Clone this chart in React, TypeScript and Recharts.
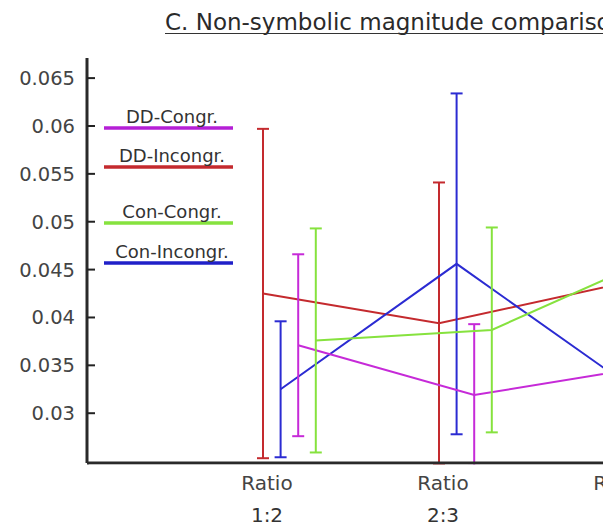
import React from "react";
import { LineChart, Line, XAxis, YAxis, ErrorBar } from "recharts";

/* =======================
   Data
======================= */
const categories = ["Ratio 1:2", "Ratio 2:3", "Ratio 3:4"];
const yTicks = [0.03, 0.035, 0.04, 0.045, 0.05, 0.055, 0.06, 0.065];

const ddCongr = [0.0371, 0.0319, 0.0349];
const ddCongrErr = [0.0095, 0.0074, 0.008];
const ddIncongr = [0.0425, 0.0394, 0.0434];
const ddIncongrErr = [0.0172, 0.0147, 0.012];
const conCongr = [0.0376, 0.0387, 0.0469];
const conCongrErr = [0.0117, 0.0107, 0.01];
const conIncongr = [0.0325, 0.0456, 0.0326];
const conIncongrErr = [0.0071, 0.0178, 0.009];

const FONT = "'DejaVu Sans', sans-serif";
const AXIS_X = 87;

const series = [
  { name: "DD-Incongr.", color: "#c42a2e", offset: 0, means: ddIncongr, errs: ddIncongrErr },
  { name: "Con-Incongr.", color: "#2b2bd2", offset: 0.1, means: conIncongr, errs: conIncongrErr },
  { name: "DD-Congr.", color: "#c62ad8", offset: 0.2, means: ddCongr, errs: ddCongrErr },
  { name: "Con-Congr.", color: "#86e23e", offset: 0.3, means: conCongr, errs: conCongrErr },
];

const legend = [
  { name: "DD-Congr.", color: "#b51fd6", y: 128 },
  { name: "DD-Incongr.", color: "#c42a2e", y: 167 },
  { name: "Con-Congr.", color: "#86e23e", y: 223 },
  { name: "Con-Incongr.", color: "#2020c8", y: 263 },
];

/* =======================
   Ticks
======================= */
const YTick = (props: any) => {
  const { y, payload } = props;
  return (
    <g>
      <line x1={AXIS_X} x2={AXIS_X + 8} y1={y} y2={y} stroke="#222" strokeWidth={2} />
      <text x={AXIS_X - 12} y={y + 7} textAnchor="end" fontSize={19.5} fill="#444" fontFamily={FONT}>
        {String(payload.value)}
      </text>
    </g>
  );
};

const XTick = (props: any) => {
  const { x, payload } = props;
  const label = categories[payload.value];
  if (!label) return null;
  const [a, b] = label.split(" ");
  return (
    <g fontFamily={FONT} fontSize={20} fill="#444">
      <text x={x + 4} y={490} textAnchor="middle">{a}</text>
      <text x={x + 4} y={522} textAnchor="middle" fill="#333">{b}</text>
    </g>
  );
};

/* =======================
   Component
======================= */
export default function App() {
  return (
    <div
      style={{
        position: "absolute",
        left: 0,
        top: 0,
        width: 603,
        height: 527,
        overflow: "hidden",
        background: "#fff",
      }}
    >
      <LineChart width={800} height={527} margin={{ top: 58, right: 9, bottom: 4, left: 0 }}>
        <XAxis
          type="number"
          dataKey="x"
          domain={[-1, 3]}
          ticks={[0, 1, 2]}
          allowDataOverflow
          height={60}
          axisLine={{ stroke: "#2a2a2a", strokeWidth: 3 }}
          tickLine={false}
          tick={<XTick />}
        />
        <YAxis
          type="number"
          domain={[0.0248, 0.0671]}
          ticks={yTicks}
          allowDataOverflow
          width={AXIS_X}
          axisLine={{ stroke: "#2a2a2a", strokeWidth: 3 }}
          tickLine={false}
          tick={<YTick />}
        />
        {series.map((s) => (
          <Line
            key={s.name}
            name={s.name}
            data={s.means.map((m, i) => ({ x: i + s.offset, y: m, err: s.errs[i] }))}
            dataKey="y"
            stroke={s.color}
            strokeWidth={2}
            dot={false}
            isAnimationActive={false}
          >
            <ErrorBar dataKey="err" width={6} stroke={s.color} strokeWidth={2} direction="y" />
          </Line>
        ))}
      </LineChart>

      {/* overlay: title + legend */}
      <svg
        width={603}
        height={527}
        style={{ position: "absolute", left: 0, top: 0, pointerEvents: "none" }}
      >
        {/* hide error-bar caps that fall below the x axis */}
        <rect x={89} y={464.6} width={514} height={7} fill="#fff" />
        <text x={165} y={30} fontSize={23} fill="#2a2a2a" fontFamily={FONT}>
          C. Non-symbolic magnitude comparison
        </text>
        <line x1={165} x2={603} y1={33.5} y2={33.5} stroke="#333" strokeWidth={1.2} />
        {legend.map((l) => (
          <g key={l.name}>
            <line x1={104} x2={233} y1={l.y} y2={l.y} stroke={l.color} strokeWidth={3.5} />
            <text x={172} y={l.y - 5} textAnchor="middle" fontSize={18} fill="#333" fontFamily={FONT}>
              {l.name}
            </text>
          </g>
        ))}
      </svg>
    </div>
  );
}
